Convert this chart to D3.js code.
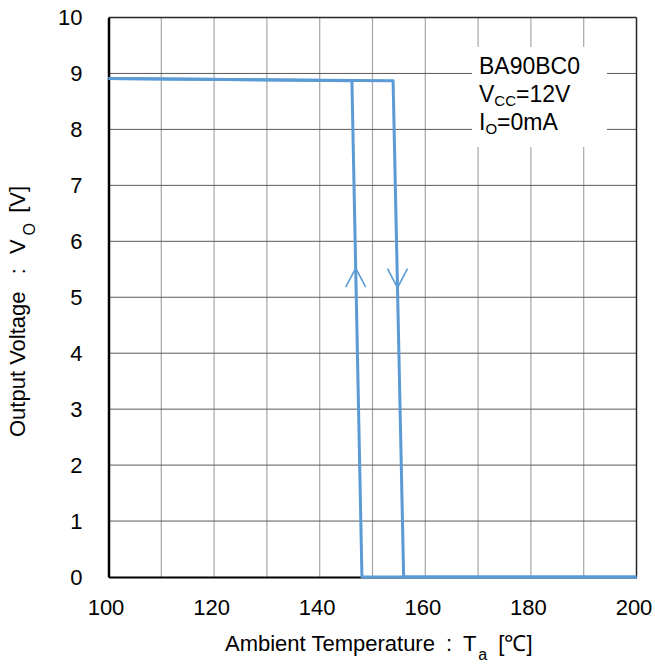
<!DOCTYPE html>
<html><head><meta charset="utf-8">
<script src="https://cdn.jsdelivr.net/npm/d3@7"></script>
<style>body{margin:0;background:#fff}svg{display:block;font-family:"Liberation Sans",Arial,sans-serif}</style>
</head><body><svg id="c" width="655" height="664"></svg>
<script>
const xTicks=[100,120,140,160,180,200];
const xGrid=[100,110,120,130,140,150,160,170,180,190,200];
const yTicks=[0,1,2,3,4,5,6,7,8,9,10];
// heating curve (temperature rising)
const heatT=[100,153.9,155.9,200];
const heatV=[8.91,8.87,0,0];
// cooling curve (temperature falling)
const coolT=[200,148.0,146.1,100];
const coolV=[0,0,8.87,8.91];
const legendLines=["BA90BC0",["V","CC","=12V"],["I","O","=0mA"]];

const svg=d3.select("#c");
const x=d3.scaleLinear().domain([100,200]).range([108.5,636.5]);
const y=d3.scaleLinear().domain([0,10]).range([577,17.5]);
const blue="#5b9bd5";
const FONT="Liberation Sans, Arial, sans-serif";

// grid
svg.append("g").selectAll("line").data(xGrid.slice(1,-1)).join("line")
 .attr("x1",d=>x(d)).attr("x2",d=>x(d)).attr("y1",y(0)).attr("y2",y(10))
 .attr("stroke","#a6a6a6").attr("stroke-width",1.2);
svg.append("g").selectAll("line").data(yTicks.slice(1,-1)).join("line")
 .attr("x1",x(100)).attr("x2",x(200)).attr("y1",d=>y(d)).attr("y2",d=>y(d))
 .attr("stroke","#595959").attr("stroke-width",1);
// frame
svg.append("line").attr("x1",x(100)).attr("x2",x(200)).attr("y1",y(10)).attr("y2",y(10)).attr("stroke","#262626").attr("stroke-width",1.5);
svg.append("line").attr("x1",x(200)).attr("x2",x(200)).attr("y1",y(0)).attr("y2",y(10)).attr("stroke","#262626").attr("stroke-width",1.5);

// legend box
svg.append("rect").attr("x",472).attr("y",47).attr("width",135).attr("height",100).attr("fill","#fff");

// axes
const xa=svg.append("g").attr("transform",`translate(0,${y(0)})`)
 .call(d3.axisBottom(x).tickValues(xTicks).tickSize(0).tickPadding(0));
xa.select(".domain").attr("stroke","#000").attr("stroke-width",2);
xa.selectAll("text").attr("font-size",22).attr("fill","#000").attr("font-family",FONT)
 .attr("dy",null).attr("y",38).attr("dx",-3);
const ya=svg.append("g").attr("transform",`translate(${x(100)},0)`)
 .call(d3.axisLeft(y).tickValues(yTicks).tickSize(0).tickPadding(26));
ya.select(".domain").attr("stroke","#000").attr("stroke-width",2.5);
ya.selectAll("text").attr("font-size",22).attr("fill","#000").attr("font-family",FONT);

// curves
const line=d3.line().x(d=>x(d[0])).y(d=>y(d[1]));
svg.append("path").datum(coolT.map((t,i)=>[t,coolV[i]])).attr("d",line)
 .attr("fill","none").attr("stroke",blue).attr("stroke-width",3).attr("stroke-linejoin","round");
svg.append("path").datum(heatT.map((t,i)=>[t,heatV[i]])).attr("d",line)
 .attr("fill","none").attr("stroke",blue).attr("stroke-width",3).attr("stroke-linejoin","round");

// arrows
function xAt(ts,vs,v){ const t=ts[1]+(ts[2]-ts[1])*(v-vs[1])/(vs[2]-vs[1]); return x(t);}
const upV=5.52, downV=5.17;
const ux=xAt(coolT,coolV,upV), uy=y(upV);
svg.append("path").attr("d",`M${ux-10},${uy+19}L${ux},${uy}L${ux+10},${uy+19}`)
 .attr("fill","none").attr("stroke",blue).attr("stroke-width",1.6);
const dx=xAt(heatT,heatV,downV), dy=y(downV);
svg.append("path").attr("d",`M${dx-10},${dy-19}L${dx},${dy}L${dx+10},${dy-19}`)
 .attr("fill","none").attr("stroke",blue).attr("stroke-width",1.6);

// legend text
const lg=svg.append("g").attr("font-size",23).attr("fill","#000");
legendLines.forEach((l,i)=>{
  const t=lg.append("text").attr("x",479).attr("y",74+i*28);
  if(typeof l==="string"){t.text(l);}
  else{
    t.append("tspan").text(l[0]);
    t.append("tspan").attr("font-size",15).attr("dy",4).text(l[1]);
    t.append("tspan").attr("dy",-4).text(l[2]);
  }
});

// axis titles
const xt=svg.append("text").attr("x",225).attr("y",651).attr("font-size",22).attr("fill","#000");
xt.append("tspan").text("Ambient Temperature");
xt.append("tspan").attr("dx",5).text(" :");
xt.append("tspan").attr("dx",5).text(" T");
xt.append("tspan").attr("font-size",16).attr("dy",9).attr("dx",2).text("a");
xt.append("tspan").attr("dy",-9).attr("dx",5).text(" [℃]");
const yt=svg.append("text").attr("transform","translate(25,437) rotate(-90)").attr("font-size",22).attr("fill","#000");
yt.append("tspan").text("Output Voltage");
yt.append("tspan").attr("dx",11).text(" :");
yt.append("tspan").attr("dx",8).text(" V");
yt.append("tspan").attr("font-size",16).attr("dy",10).attr("dx",4).text("O");
yt.append("tspan").attr("dy",-10).attr("dx",4).text(" [V]");
</script></body></html>
